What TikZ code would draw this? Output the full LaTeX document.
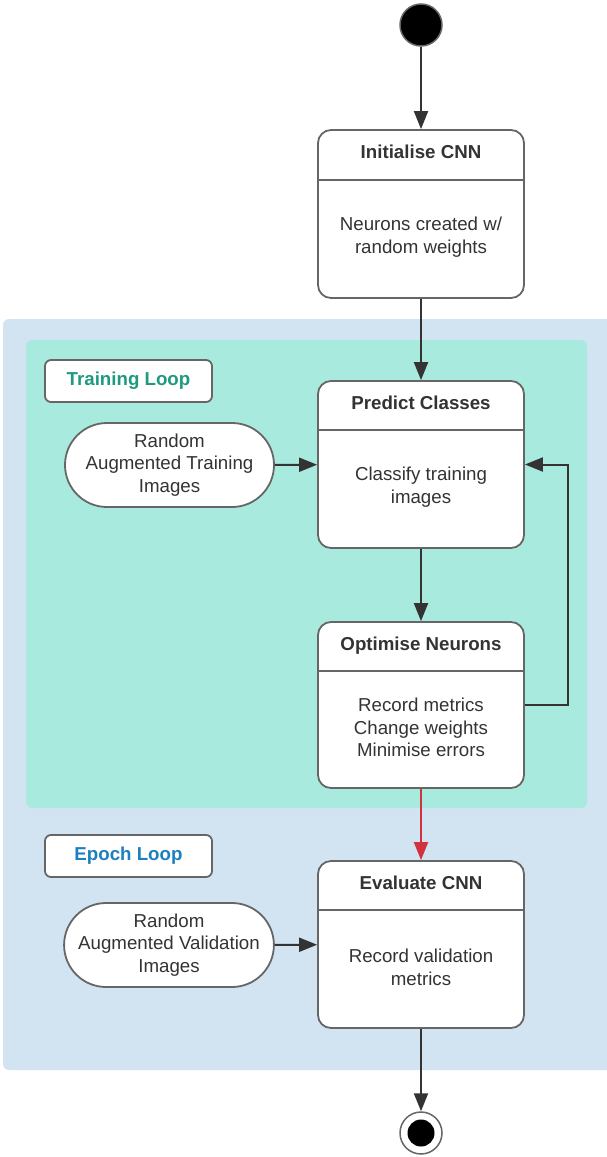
\documentclass[tikz,border=0pt]{standalone}
\usepackage{fontspec}
\setmainfont{Liberation Sans}
\usetikzlibrary{arrows.meta,shapes.misc}
\definecolor{edgegray}{HTML}{333333}
\definecolor{bordergray}{HTML}{666666}
\definecolor{txt}{HTML}{333333}
\definecolor{epochbg}{HTML}{D2E4F2}
\definecolor{trainbg}{HTML}{A9EADF}
\definecolor{traintxt}{HTML}{1E9A80}
\definecolor{epochtxt}{HTML}{1B80C0}
\definecolor{redarrow}{HTML}{D1323F}
\tikzset{
  statebox/.style={draw=bordergray, line width=1.8pt, fill=white, rounded corners=13pt,
    minimum width=206pt, minimum height=167pt, inner sep=0pt},
  divider/.style={draw=bordergray, line width=1.8pt},
  titletxt/.style={anchor=base, font=\fontsize{18.7}{22.5}\selectfont\bfseries, text=txt, inner sep=0pt},
  bodytxt/.style={align=center, font=\fontsize{18.7}{22.7}\selectfont, text=txt, inner sep=0pt},
  termbox/.style={rounded rectangle, draw=bordergray, line width=1.8pt, fill=white,
    minimum width=209pt, minimum height=84pt, inner sep=0pt, align=center,
    font=\fontsize{18.7}{22.7}\selectfont, text=txt},
  labelbox/.style={draw=bordergray, line width=1.8pt, fill=white, rounded corners=6pt,
    minimum width=167pt, minimum height=42pt, inner sep=0pt,
    font=\fontsize{18.7}{22.5}\selectfont\bfseries},
  flow/.style={draw=edgegray, line width=2pt, -{Triangle[length=18pt,width=14pt]}},
  redflow/.style={draw=redarrow, line width=2pt, -{Triangle[length=18pt,width=14pt,fill=redarrow]}},
}
\begin{document}
\begin{tikzpicture}[x=1pt,y=-1pt]
\useasboundingbox (0,0) rectangle (606,1157);
% background regions
\fill[epochbg, rounded corners=6pt] (3,319) rectangle (640,1070);
\fill[trainbg, rounded corners=6pt] (26,340) rectangle (587,808);
% labels
\node[labelbox, text=traintxt] (trainlbl) at (128.5,381) {Training Loop};
\node[labelbox, text=epochtxt] (epochlbl) at (128.5,856) {Epoch Loop};
% start
\node[circle, fill=black, draw=bordergray, line width=1.5pt, minimum size=42pt, inner sep=0pt] (start) at (421,25) {};
% Initialise CNN
\node[statebox, minimum height=168pt] (init) at (421,214) {};
\draw[divider] ([yshift=-51pt]init.north west) -- ([yshift=-51pt]init.north east);
\node[titletxt] (initT) at (421,158) {Initialise CNN};
\node[bodytxt] (initB) at (421,237.5) {Neurons created w/\\random weights};
% Predict Classes
\node[statebox] (pred) at (421,464.5) {};
\draw[divider] ([yshift=-50pt]pred.north west) -- ([yshift=-50pt]pred.north east);
\node[titletxt] (predT) at (421,409.5) {Predict Classes};
\node[bodytxt] (predB) at (421,487.5) {Classify training\\images};
% Optimise Neurons
\node[statebox, minimum height=166pt] (opt) at (421,705) {};
\draw[divider] ([yshift=-50pt]opt.north west) -- ([yshift=-50pt]opt.north east);
\node[titletxt] (optT) at (421,650) {Optimise Neurons};
\node[bodytxt] (optB) at (421,727.5) {Record metrics\\Change weights\\Minimise errors};
% Evaluate CNN
\node[statebox] (eval) at (421,944.5) {};
\draw[divider] ([yshift=-50pt]eval.north west) -- ([yshift=-50pt]eval.north east);
\node[titletxt] (evalT) at (421,889.5) {Evaluate CNN};
\node[bodytxt] (evalB) at (421,967.5) {Record validation\\metrics};
% terminals
\node[termbox] (trainimg) at (169.5,465) {Random\\Augmented Training\\Images};
\node[termbox] (valimg) at (169,945) {Random\\Augmented Validation\\Images};
% end
\node[circle, fill=white, draw=bordergray, line width=1.5pt, minimum size=42pt, inner sep=0pt] (endo) at (421,1133) {};
\node[circle, fill=black, minimum size=27pt, inner sep=0pt] (endi) at (endo.center) {};
% connectors
\draw[flow] (start) -- (init);
\draw[flow] (init) -- (pred);
\draw[flow] (pred) -- (opt);
\draw[redflow] (opt) -- (eval);
\draw[flow] (eval) -- (endo);
\draw[flow] (trainimg) -- (pred);
\draw[flow] (valimg) -- (eval);
\draw[flow] (opt.east) -- ++(43,0) |- (pred.east);
\end{tikzpicture}
\end{document}
